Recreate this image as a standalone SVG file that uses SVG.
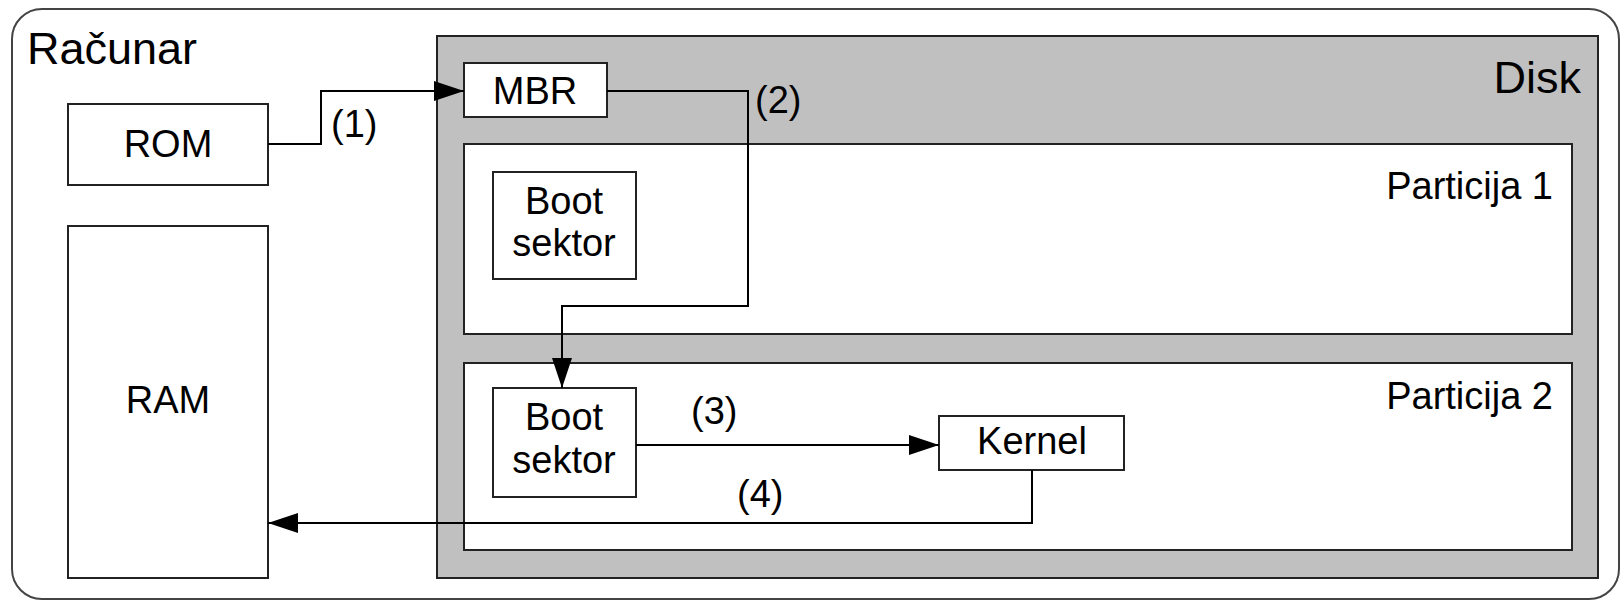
<svg xmlns="http://www.w3.org/2000/svg" width="1622" height="602" viewBox="0 0 1622 602">
<style>
text{font-family:"Liberation Sans",Arial,sans-serif;fill:#000}
.box{fill:#fff;stroke:#222;stroke-width:2}
.lbl{font-size:38px}
.big{font-size:45px}
.c{text-anchor:middle}
.r{text-anchor:end}
.conn{fill:none;stroke:#000;stroke-width:2}
</style>
<defs>
<marker id="arr" markerUnits="userSpaceOnUse" markerWidth="30" markerHeight="20" refX="30" refY="10" orient="auto">
<path d="M0,0 L30,10 L0,20 z" fill="#000"/>
</marker>
</defs>
<g id="racunar">
<rect x="12" y="9" width="1607" height="590" rx="30" ry="30" fill="#fff" stroke="#444" stroke-width="2"/>
<text class="big" x="27" y="64">Računar</text>
</g>
<g id="disk">
<rect x="437" y="36" width="1161" height="542" fill="#c0c0c0" stroke="#222" stroke-width="2"/>
<text class="big r" x="1581" y="93">Disk</text>
</g>
<g id="rom">
<rect class="box" x="68" y="104" width="200" height="81"/>
<text class="lbl c" x="168" y="157">ROM</text>
</g>
<g id="ram">
<rect class="box" x="68" y="226" width="200" height="352"/>
<text class="lbl c" x="168" y="413">RAM</text>
</g>
<g id="mbr">
<rect class="box" x="464" y="63" width="143" height="54"/>
<text class="lbl c" x="535" y="104">MBR</text>
</g>
<g id="particija1">
<rect class="box" x="464" y="144" width="1108" height="190"/>
<text class="lbl r" x="1553" y="199">Particija 1</text>
</g>
<g id="particija2">
<rect class="box" x="464" y="363" width="1108" height="187"/>
<text class="lbl r" x="1553" y="409">Particija 2</text>
</g>
<g id="boot1">
<rect class="box" x="493" y="172" width="143" height="107"/>
<text class="lbl c" x="564" y="214">Boot</text>
<text class="lbl c" x="564" y="256">sektor</text>
</g>
<g id="boot2">
<rect class="box" x="493" y="388" width="143" height="109"/>
<text class="lbl c" x="564" y="430">Boot</text>
<text class="lbl c" x="564" y="473">sektor</text>
</g>
<g id="kernel">
<rect class="box" x="939" y="416" width="185" height="54"/>
<text class="lbl c" x="1032" y="454">Kernel</text>
</g>
<g id="connectors">
<path class="conn" d="M268,144 H321 V91 H464" marker-end="url(#arr)"/>
<path class="conn" d="M607,91 H748 V306 H562 V388" marker-end="url(#arr)"/>
<path class="conn" d="M636,445 H939" marker-end="url(#arr)"/>
<path class="conn" d="M1032,470 V523 H268" marker-end="url(#arr)"/>
<text class="lbl" x="331" y="137">(1)</text>
<text class="lbl" x="755" y="113">(2)</text>
<text class="lbl" x="691" y="424">(3)</text>
<text class="lbl" x="737" y="507">(4)</text>
</g>
</svg>
